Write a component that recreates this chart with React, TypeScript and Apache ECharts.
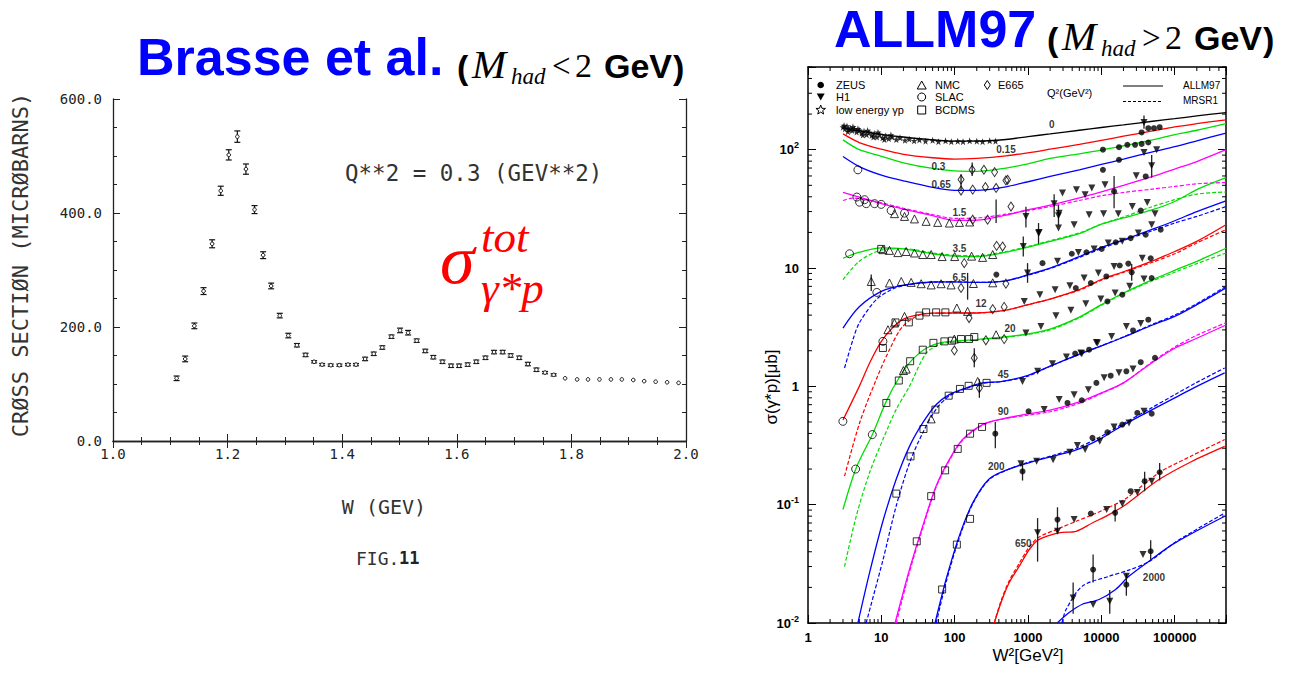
import React, { useEffect, useRef } from "react";
import * as echarts from "echarts";

// ---------------- Left panel: Brasse et al. ----------------
const brasseW = [1.111, 1.126, 1.142, 1.158, 1.173, 1.188, 1.202, 1.217, 1.232, 1.247, 1.262, 1.276, 1.291, 1.306, 1.321, 1.336, 1.351, 1.365, 1.38, 1.395, 1.41, 1.424, 1.44, 1.455, 1.47, 1.486, 1.501, 1.515, 1.53, 1.545, 1.559, 1.575, 1.59, 1.604, 1.619, 1.634, 1.65, 1.665, 1.68, 1.694, 1.709, 1.724, 1.739, 1.754, 1.769, 1.789, 1.81, 1.829, 1.849, 1.869, 1.888, 1.908, 1.927, 1.947, 1.967, 1.987];
const brasseSigma = [110, 144, 202, 263, 346, 439, 502, 534, 477, 406, 326, 272, 220, 185, 168, 151, 139, 134, 133, 133, 134, 134, 144, 153, 164, 183, 194, 190, 176, 158, 147, 139, 132, 132, 134, 139, 146, 156, 156, 150, 146, 135, 125, 120, 116, 110, 108, 108, 108, 108, 108, 107, 105, 104, 103, 102];
const brasseErr = [4, 5, 5, 6, 7, 8, 9, 10, 9, 7, 6, 5, 4, 4, 3, 3, 2, 2, 2, 2, 2, 2, 3, 3, 3, 3, 4, 4, 3, 3, 3, 3, 3, 3, 3, 3, 3, 3, 3, 3, 3, 3, 3, 2, 2, 0, 0, 0, 0, 0, 0, 0, 0, 0, 0, 0];
const leftXTickLabels = ["1.0", "1.2", "1.4", "1.6", "1.8", "2.0"];
const leftYTickLabels = ["0.0", "200.0", "400.0", "600.0"];

// ---------------- Right panel: ALLM97 curves (W^2 [GeV^2], sigma [mub]) ----------------
const allmQ0 = [[3, 153], [5, 144], [10, 135], [20, 128], [50, 121], [100, 118], [200, 118], [500, 122], [1000, 129], [2000, 136], [5000, 146], [10000, 154], [20000, 162], [50000, 174], [100000, 183], [200000, 193], [500000, 206]];
const allmQ015 = [[3, 136], [5, 115], [10, 101], [20, 91.4], [50, 85.5], [100, 83.3], [200, 84.6], [500, 88.8], [1000, 94.2], [2000, 101], [5000, 111], [10000, 120], [20000, 130], [50000, 144], [100000, 156], [200000, 166], [500000, 179]];
const allmQ03 = [[3, 121], [5, 100], [10, 88], [20, 77.5], [50, 69.4], [100, 66.3], [200, 65.7], [500, 70], [1000, 76], [2000, 84.3], [5000, 92.3], [10000, 99.3], [20000, 108], [50000, 121], [100000, 134], [200000, 146], [500000, 166]];
const allmQ065 = [[3, 87.6], [5, 72], [10, 61], [20, 54.6], [50, 48.1], [100, 45.4], [200, 45.4], [500, 48.6], [1000, 53.6], [2000, 59.4], [5000, 67.6], [10000, 75], [20000, 83.3], [50000, 96], [100000, 106], [200000, 119], [500000, 138]];
const allmQ15 = [[3, 43.5], [5, 39.8], [10, 35], [20, 31.5], [50, 27.7], [100, 25.3], [200, 25.4], [500, 28], [1000, 31.1], [2000, 34], [5000, 39.2], [10000, 44.1], [20000, 49.9], [50000, 59.4], [100000, 68.6], [200000, 79.4], [500000, 100]];
const mrsQ15 = [[3, 37.2], [4, 39], [5, 38.5], [10, 35.5], [20, 32], [50, 28.3], [100, 26.3], [200, 26.5], [500, 28.5], [1000, 30.6], [2000, 33.1], [5000, 37.2], [10000, 40.8], [20000, 43.5], [50000, 46.5], [100000, 48.9], [200000, 51.5], [500000, 52.9]];
const allmQ35 = [[3, 12.1], [5, 13.6], [10, 14.8], [20, 14.5], [50, 13.2], [100, 12.6], [200, 12.5], [500, 13.6], [1000, 15], [2000, 16.8], [5000, 19.5], [10000, 23.5], [20000, 26.5], [50000, 31.1], [100000, 36.5], [200000, 46], [500000, 58]];
const mrsQ35 = [[3, 7.97], [5, 11.4], [10, 14.2], [20, 14.6], [50, 13.4], [100, 12.8], [200, 12.7], [500, 13.8], [1000, 15.2], [2000, 17], [5000, 19.8], [10000, 23.5], [20000, 27], [50000, 33.1], [100000, 37.8], [200000, 42.2], [500000, 43.9]];
const allmQ65 = [[3, 3.11], [5, 4.7], [10, 6.35], [20, 7.18], [50, 7.62], [100, 7.65], [200, 7.56], [500, 7.8], [1000, 8.78], [2000, 10], [5000, 12.5], [10000, 14.9], [20000, 17.3], [50000, 21.3], [100000, 25.1], [200000, 30], [500000, 37]];
const mrsQ65 = [[3.15, 1.43], [4.1, 2.48], [5, 3.43], [8.5, 5.4], [14.3, 6.65], [20, 7.1], [50, 7.6], [100, 7.65], [200, 7.56], [500, 7.8], [1000, 8.7], [2000, 9.9], [5000, 12.3], [10000, 14.6], [20000, 17.1], [50000, 20.7], [100000, 24], [200000, 27.3], [500000, 33.1]];
const allmQ12 = [[3, 0.52], [5, 1.0], [7, 1.6], [10, 2.4], [14, 3.1], [20, 3.7], [30, 4.0], [50, 4.15], [100, 4.17], [200, 4.17], [500, 4.4], [1000, 4.9], [2000, 5.47], [5000, 6.56], [10000, 8.0], [20000, 9.3], [50000, 11.5], [100000, 13.8], [200000, 16.8], [500000, 23.2]];
const mrsQ12 = [[3.15, 0.174], [5.05, 0.49], [8.5, 1.14], [12.9, 2.04], [19.6, 3.21], [36.6, 4.1], [50, 4.15], [100, 4.17], [200, 4.17], [500, 4.4], [1000, 4.9], [2000, 5.47], [5000, 6.5], [10000, 7.9], [20000, 9.2], [50000, 11.2], [100000, 13.2], [200000, 16.3], [500000, 21.1]];
const allmQ20 = [[3, 0.091], [4.55, 0.205], [7.67, 0.4], [11.7, 0.75], [17.7, 1.2], [26.8, 1.7], [40.8, 2.1], [68, 2.35], [195, 2.48], [550, 2.64], [1000, 2.77], [2000, 3.05], [5000, 3.85], [10000, 4.9], [20000, 6.15], [50000, 7.97], [100000, 9.55], [200000, 11.4], [500000, 14.7]];
const mrsQ20 = [[3.15, 0.03], [4.55, 0.08], [6.9, 0.186], [10.5, 0.355], [15.9, 0.636], [24.2, 1.0], [40.8, 1.9], [68, 2.3], [195, 2.46], [550, 2.62], [1000, 2.75], [2000, 3.0], [5000, 3.8], [10000, 4.85], [20000, 6.1], [50000, 7.8], [100000, 9.2], [200000, 10.9], [500000, 13.4]];
const allmQ45 = [[4.79, 0.01], [6.9, 0.0265], [10.5, 0.0724], [15.9, 0.163], [24.2, 0.311], [36.6, 0.491], [55.7, 0.7], [84.4, 0.851], [143, 0.968], [240, 1.07], [450, 1.1], [1000, 1.24], [2000, 1.48], [5000, 1.87], [10000, 2.2], [20000, 2.6], [50000, 3.3], [100000, 3.9], [200000, 4.9], [500000, 6.8]];
const mrsQ45 = [[6.2, 0.01], [10.5, 0.034], [15.9, 0.097], [24.2, 0.225], [36.6, 0.404], [55.7, 0.64], [84.4, 0.83], [143, 0.96], [240, 1.06], [450, 1.1], [1000, 1.22], [2000, 1.48], [5000, 1.86], [10000, 2.2], [20000, 2.62], [50000, 3.35], [100000, 4.0], [200000, 5.0], [500000, 7.0]];
const allmQ90 = [[15.4, 0.01], [24.2, 0.0283], [36.6, 0.0657], [55.7, 0.143], [84.4, 0.24], [128, 0.355], [240, 0.475], [450, 0.531], [1000, 0.585], [2000, 0.63], [5000, 0.74], [10000, 0.88], [20000, 1.07], [50000, 1.6], [100000, 2.1], [200000, 2.55], [500000, 3.3]];
const mrsQ90 = [[16, 0.01], [24.2, 0.027], [36.6, 0.063], [55.7, 0.14], [84.4, 0.236], [128, 0.35], [240, 0.47], [450, 0.53], [1000, 0.57], [2000, 0.61], [5000, 0.72], [10000, 0.87], [20000, 1.07], [50000, 1.62], [100000, 2.15], [200000, 2.7], [500000, 3.45]];
const allmQ200 = [[54, 0.01], [76.2, 0.0233], [115, 0.054], [177, 0.104], [295, 0.165], [550, 0.2], [1000, 0.225], [2150, 0.256], [4540, 0.29], [9300, 0.355], [19300, 0.466], [44600, 0.615], [100000, 0.8], [200000, 1.0], [480000, 1.3]];
const mrsQ200 = [[56, 0.01], [76.2, 0.022], [115, 0.052], [177, 0.102], [295, 0.163], [550, 0.2], [1000, 0.228], [2150, 0.26], [4540, 0.3], [9300, 0.37], [19300, 0.48], [44600, 0.64], [100000, 0.85], [200000, 1.08], [480000, 1.43]];
const allmQ650 = [[346, 0.01], [430, 0.015], [550, 0.0218], [760, 0.0302], [1040, 0.0418], [1400, 0.0507], [2650, 0.0578], [4540, 0.0596], [7500, 0.07], [12700, 0.0825], [21400, 0.1], [61000, 0.163], [173000, 0.233], [480000, 0.311]];
const mrsQ650 = [[346, 0.01], [430, 0.0155], [550, 0.0225], [760, 0.032], [1040, 0.044], [1400, 0.053], [2650, 0.063], [4540, 0.0724], [7500, 0.082], [12700, 0.095], [21400, 0.112], [61000, 0.186], [173000, 0.26], [480000, 0.355]];
const allmQ2000 = [[2500, 0.01], [3600, 0.0122], [5500, 0.0144], [9300, 0.0158], [15600, 0.0192], [23700, 0.0248], [44600, 0.0333], [101000, 0.0475], [480000, 0.0798]];
const mrsQ2000 = [[2900, 0.01], [3300, 0.013], [5500, 0.0205], [12700, 0.0248], [23700, 0.028], [44600, 0.033], [101000, 0.048], [480000, 0.085]];

// Q^2 labels on curves: [label, W2, sigma]
const q2Labels: [string, number, number][] = [["0", 2115, 162], ["0.15", 500, 99.8], ["0.3", 60, 71.7], ["0.65", 65.3, 50.6], ["1.5", 116, 29.5], ["3.5", 116, 14.5], ["6.5", 116, 8.24], ["12", 229, 5.06], ["20", 567, 3.11], ["45", 460, 1.26], ["90", 460, 0.611], ["200", 369, 0.21], ["650", 860, 0.0469], ["2000", 52100, 0.0241]];

// Data sets
const zeus = [[35400, 140], [43600, 152], [52100, 152], [62300, 155], [10500, 100], [17400, 105], [22600, 110], [28800, 110], [35400, 112], [43600, 115], [17400, 82.2], [10500, 67.6], [40200, 59.4], [14900, 44.4], [34400, 30.6], [64300, 21.1], [40200, 19.1], [3950, 13.2], [6250, 13.6], [10100, 14.5], [15700, 16.5], [25100, 17.9], [1575, 11.0], [370, 8.8], [11700, 8.49], [17800, 10.5], [23300, 10.9], [25900, 9.19], [47000, 12.1], [4480, 6.78], [7170, 7.47], [12100, 5.22], [19300, 5.95], [48500, 8.24], [4390, 1.89], [6800, 2.04], [43600, 3.66], [27000, 2.97], [841, 0.191], [2520, 0.0748], [7170, 0.0841], [15400, 0.0853], [25100, 0.13], [38900, 0.158], [62300, 0.188], [7710, 0.0283], [21900, 0.0211], [47000, 0.0404], [1016, 0.615], [3450, 0.724], [5410, 0.762], [8550, 1.07], [13400, 1.23], [21900, 1.34], [34400, 1.6], [53800, 1.74], [7550, 0.367], [12100, 0.409], [19300, 0.475], [30900, 0.596], [48500, 0.588], [358, 0.398]];
const h1 = [[38100, 170], [38100, 94.7], [56700, 100], [11200, 50.5], [29900, 60.2], [48500, 73.1], [2270, 34.9], [2950, 43.0], [4570, 45.8], [6000, 41.6], [7400, 47.4], [936, 27.3], [1390, 19.8], [2600, 27.7], [2600, 21.8], [4250, 23.2], [6800, 28.2], [10700, 28.8], [17000, 28.8], [26400, 33.1], [42200, 35.8], [53800, 28.8], [861, 15.2], [985, 9.07], [2520, 11.4], [4860, 13.5], [7960, 14.5], [12400, 16.3], [19300, 16.8], [31900, 19.8], [48500, 23.2], [888, 5.22], [1450, 5.95], [2340, 6.56], [3720, 7.1], [5820, 8.24], [9100, 9.07], [14900, 10.3], [36100, 12.1], [936, 2.83], [1500, 3.21], [2400, 3.96], [3840, 4.39], [6130, 4.99], [9820, 5.47], [15400, 6.15], [24300, 7.0], [38100, 8.07], [3340, 1.77], [5250, 1.91], [8550, 2.35], [13800, 2.64], [21900, 3.21], [34400, 3.39], [1350, 0.0578], [2520, 0.0596], [4250, 0.0748], [11800, 0.0909], [19300, 0.102], [30900, 0.127], [48500, 0.158], [4120, 0.0163], [7710, 0.0143], [13000, 0.0153], [21900, 0.0248], [36900, 0.0379], [800, 0.222], [1310, 0.233], [2200, 0.24], [3720, 0.277], [4710, 0.316], [6000, 0.292], [9500, 0.343], [14900, 0.454], [23800, 0.491], [38100, 0.615], [841, 1.1], [1660, 0.636], [2660, 0.773], [4250, 0.851], [6650, 0.938], [10900, 1.18], [17400, 1.3], [27000, 1.4], [1350, 1.34], [2150, 1.55], [5410, 1.89], [8830, 2.33], [1420, 20], [2660, 29.1]];
const lowEnergyGp = [[3.0, 155], [3.1, 160], [3.2, 150], [3.4, 158], [3.5, 142], [3.6, 148], [3.8, 152], [4.0, 145], [4.1, 156], [4.3, 150], [4.6, 141], [4.8, 150], [5.0, 146], [5.4, 138], [5.6, 133], [5.8, 143], [6.3, 134], [6.5, 145], [6.8, 140], [7.4, 132], [7.8, 128], [8.0, 137], [8.7, 128], [9.0, 140], [9.5, 134], [10.4, 126], [11, 122], [11.5, 131], [12.6, 124], [13.5, 133], [14, 128], [16, 122], [18, 126], [21, 120], [24, 123], [28, 119], [33, 121], [40, 118], [50, 120], [60, 117], [75, 119], [90, 117], [110, 118], [130, 117], [160, 119], [200, 118], [240, 117], [300, 119], [360, 118]];
const nmc = [[15.1, 28.8], [20.7, 27.3], [28.3, 26.0], [40.8, 24.8], [58.7, 24.3], [84.7, 24.0], [116, 24.3], [160, 24.5], [10.5, 14.3], [12.9, 14.1], [16.8, 13.5], [21.8, 13.8], [28.3, 13.4], [36.7, 13.0], [47.8, 13.0], [67.4, 12.5], [100, 12.5], [170, 12.6], [240, 12.3], [330, 13.0], [7.28, 7.7], [12.9, 7.47], [18.7, 7.7], [25.5, 7.56], [34.9, 7.37], [47.8, 7.2], [65.3, 7.37], [89.3, 7.2], [180, 7.4], [330, 7.5], [12.3, 3.01], [15.1, 3.43], [20.7, 3.9], [107, 4.59], [150, 4.3], [20, 1.36], [21.8, 1.4], [47.8, 0.531], [206, 1.1], [99, 2.51], [367, 2.73]];
const slac = [[4.79, 67.6], [4.64, 39.8], [5.91, 37.8], [5.05, 36.0], [6.23, 35.0], [8.08, 35.0], [9.96, 34.5], [13.6, 30.6], [20.7, 29.1], [3.69, 13.2], [8.68, 6.22], [10.5, 2.4], [2.99, 0.506], [4.46, 0.2], [7.52, 0.391]];
const bcdms = [[9.96, 14.5], [10.5, 2.11], [15.6, 3.47], [23.7, 3.47], [33.1, 3.96], [40.8, 4.22], [55.9, 4.22], [74.7, 4.22], [11.7, 0.724], [17.3, 1.12], [24.7, 1.63], [36.7, 2.04], [51.3, 2.33], [72.4, 2.4], [92, 2.43], [122, 2.51], [157, 2.51], [185, 2.61], [16.0, 0.124], [25, 0.256], [37.5, 0.436], [54.6, 0.636], [82.8, 0.834], [118, 0.951], [155, 1.01], [272, 1.07], [30.4, 0.049], [47.8, 0.118], [74, 0.195], [110, 0.296], [162, 0.398], [236, 0.454], [67.4, 0.0192], [107, 0.046], [162, 0.0759]];
const e665 = [[173, 67.7], [250, 67.7], [350, 64.7], [122, 45.2], [176, 46], [262, 48.4], [367, 47.5], [499, 55], [122, 56], [526, 55.7], [176, 25.6], [281, 25.6], [585, 33.1], [135, 11.0], [373, 15.4], [450, 15.2], [122, 6.78], [499, 7.37], [157, 3.78], [330, 4.5], [473, 4.69], [99, 2.01], [185, 1.74], [266, 2.45], [473, 2.51], [217, 0.968]];
// vertical error bars: [W2, low, high]
const rightErrBars = [[14900, 32, 60], [48500, 58, 90], [2270, 27, 42], [936, 22, 33], [1390, 16, 24], [2600, 23, 34], [25900, 7.8, 10.8], [122, 45, 62], [173, 60, 78], [861, 12.5, 18.5], [985, 7.5, 11], [150, 5.4, 9.1], [367, 24, 38], [1350, 0.033, 0.077], [7710, 0.022, 0.038], [2520, 0.058, 0.095], [841, 0.16, 0.23], [47000, 0.034, 0.05], [4120, 0.012, 0.022], [13000, 0.012, 0.019], [21900, 0.017, 0.026], [15400, 0.072, 0.1], [38900, 0.13, 0.19], [62300, 0.16, 0.225], [38100, 150, 195], [358, 0.3, 0.5], [217, 0.8, 1.15], [7.28, 6.4, 8.8], [185, 1.45, 2.1]];

const logMinorDigits = [2, 3, 4, 5, 6, 7, 8, 9];
const xDecades = [1, 10, 100, 1000, 10000, 100000];
const yDecades = [0.01, 0.1, 1, 10, 100];

const RED = "#ff0000";
const GREEN = "#00dd00";
const BLUE = "#0000ff";
const MAGENTA = "#ff00ff";
const BLACK = "#000000";

const STAR = "path://M0,-10 L2.35,-3.24 L9.51,-3.09 L3.8,1.24 L5.88,8.09 L0,4 L-5.88,8.09 L-3.8,1.24 L-9.51,-3.09 L-2.35,-3.24 Z";
const MONO = "DejaVu Sans Mono";
const SANS = "Liberation Sans";
const SERIF = "Liberation Serif";

function buildOption() {
  const curves = [
    { color: BLACK, solid: allmQ0, dashed: null },
    { color: RED, solid: allmQ015, dashed: null },
    { color: GREEN, solid: allmQ03, dashed: null },
    { color: BLUE, solid: allmQ065, dashed: null },
    { color: MAGENTA, solid: allmQ15, dashed: mrsQ15 },
    { color: GREEN, solid: allmQ35, dashed: mrsQ35 },
    { color: BLUE, solid: allmQ65, dashed: mrsQ65 },
    { color: RED, solid: allmQ12, dashed: mrsQ12 },
    { color: GREEN, solid: allmQ20, dashed: mrsQ20 },
    { color: BLUE, solid: allmQ45, dashed: mrsQ45 },
    { color: MAGENTA, solid: allmQ90, dashed: mrsQ90 },
    { color: BLUE, solid: allmQ200, dashed: mrsQ200 },
    { color: RED, solid: allmQ650, dashed: mrsQ650 },
    { color: BLUE, solid: allmQ2000, dashed: mrsQ2000 },
  ];

  const xMinor: number[][] = [];
  xDecades.forEach((d) => logMinorDigits.forEach((k) => { if (k * d <= 500000) xMinor.push([k * d, 1]); }));
  const yMinor: number[][] = [];
  yDecades.forEach((d) => logMinorDigits.forEach((k) => { if (k * d <= 500) yMinor.push([1, k * d]); }));

  const series: any[] = [];

  // Left error-bar points
  series.push({
    type: "custom",
    xAxisIndex: 0,
    yAxisIndex: 0,
    silent: true,
    data: brasseW.map((w, i) => [w, brasseSigma[i], brasseErr[i]]),
    renderItem: (params: any, api: any) => {
      const x = api.value(0), y = api.value(1), e = api.value(2);
      const c = api.coord([x, y]);
      const ch: any[] = [];
      const st = { stroke: "#111", lineWidth: 1.2 };
      if (e > 0) {
        const t = api.coord([x, y + e]);
        const b = api.coord([x, y - e]);
        ch.push({ type: "line", shape: { x1: c[0], y1: t[1], x2: c[0], y2: b[1] }, style: st });
        ch.push({ type: "line", shape: { x1: c[0] - 3, y1: t[1], x2: c[0] + 3, y2: t[1] }, style: st });
        ch.push({ type: "line", shape: { x1: c[0] - 3, y1: b[1], x2: c[0] + 3, y2: b[1] }, style: st });
      }
      ch.push({ type: "circle", shape: { cx: c[0], cy: c[1], r: 1.8 }, style: { fill: "#fff", stroke: "#111", lineWidth: 1 } });
      return { type: "group", children: ch };
    },
  });

  // Log minor ticks (right panel)
  series.push({
    type: "custom", xAxisIndex: 2, yAxisIndex: 2, silent: true, clip: false, data: xMinor,
    renderItem: (params: any, api: any) => {
      const cs = params.coordSys;
      const p = api.coord([api.value(0), api.value(1)]);
      const st = { stroke: "#000", lineWidth: 1 };
      return { type: "group", children: [
        { type: "line", shape: { x1: p[0], y1: cs.y + cs.height, x2: p[0], y2: cs.y + cs.height - 4 }, style: st },
        { type: "line", shape: { x1: p[0], y1: cs.y, x2: p[0], y2: cs.y + 4 }, style: st },
      ] };
    },
  });
  series.push({
    type: "custom", xAxisIndex: 2, yAxisIndex: 2, silent: true, clip: false, data: yMinor,
    renderItem: (params: any, api: any) => {
      const cs = params.coordSys;
      const p = api.coord([api.value(0), api.value(1)]);
      const st = { stroke: "#000", lineWidth: 1 };
      return { type: "group", children: [
        { type: "line", shape: { x1: cs.x, y1: p[1], x2: cs.x + 4, y2: p[1] }, style: st },
        { type: "line", shape: { x1: cs.x + cs.width, y1: p[1], x2: cs.x + cs.width - 4, y2: p[1] }, style: st },
      ] };
    },
  });

  // Curves
  curves.forEach((c) => {
    series.push({
      type: "line", xAxisIndex: 2, yAxisIndex: 2, data: c.solid, showSymbol: false, symbol: "none",
      smooth: 0.3, silent: true, z: 3, lineStyle: { color: c.color, width: 1.3 },
    });
    if (c.dashed) {
      series.push({
        type: "line", xAxisIndex: 2, yAxisIndex: 2, data: c.dashed, showSymbol: false, symbol: "none",
        smooth: 0.3, silent: true, z: 3, lineStyle: { color: c.color, width: 1.2, type: [4, 2] },
      });
    }
  });

  // Error bars (right)
  series.push({
    type: "custom", xAxisIndex: 2, yAxisIndex: 2, silent: true, z: 4, data: rightErrBars,
    renderItem: (params: any, api: any) => {
      const a = api.coord([api.value(0), api.value(1)]);
      const b = api.coord([api.value(0), api.value(2)]);
      return { type: "line", shape: { x1: a[0], y1: a[1], x2: b[0], y2: b[1] }, style: { stroke: "#222", lineWidth: 1.3 } };
    },
  });

  const open = { color: "rgba(0,0,0,0)", borderColor: "#000", borderWidth: 1 };
  const scat = (name: string, data: number[][], symbol: string, size: any, style: any, rotate = 0) => ({
    type: "scatter", name, xAxisIndex: 2, yAxisIndex: 2, data, symbol, symbolSize: size, symbolRotate: rotate,
    itemStyle: style, z: 5, silent: true,
  });
  series.push(scat("low energy γp", lowEnergyGp, STAR, 7, { color: "#000" }));
  series.push(scat("NMC", nmc, "triangle", 8, open));
  series.push(scat("SLAC", slac, "circle", 8, open));
  series.push(scat("BCDMS", bcdms, "rect", 7, open));
  series.push(scat("E665", e665, "diamond", [6, 9], open));
  series.push(scat("ZEUS", zeus, "circle", 6, { color: "#000" }));
  series.push(scat("H1", h1, "triangle", 7, { color: "#000" }, 180));

  // Q^2 labels
  series.push({
    type: "scatter", xAxisIndex: 2, yAxisIndex: 2, symbolSize: 1, silent: true, z: 6,
    itemStyle: { color: "rgba(0,0,0,0)" },
    data: q2Labels.map((q) => ({ name: q[0], value: [q[1], q[2]] })),
    label: { show: true, position: "inside", formatter: (p: any) => p.name, fontFamily: SANS, fontWeight: "bold", fontSize: 10, color: "#000" },
  });

  const leftAxisCommon = {
    axisLine: { lineStyle: { color: "#222", width: 1.3 } },
    axisTick: { inside: true, length: 7, lineStyle: { color: "#222", width: 1 } },
    minorTick: { show: true, splitNumber: 4, length: 4, lineStyle: { color: "#222", width: 1 } },
    splitLine: { show: false },
    minorSplitLine: { show: false },
  };
  const logLabel = (v: number) => {
    const e = Math.log10(v);
    const r = Math.round(e);
    if (Math.abs(e - r) > 1e-6) return "";
    return String(Math.round(Math.pow(10, r)));
  };
  const yLogLabel = (v: number) => {
    const e = Math.log10(v);
    const r = Math.round(e);
    if (Math.abs(e - r) > 1e-6) return "";
    if (r === 0) return "{b|1}";
    if (r === 1) return "{b|10}";
    return "{b|10}{s|" + r + "}";
  };
  const rightAxisCommon = {
    type: "log", logBase: 10,
    axisLine: { lineStyle: { color: "#000", width: 1.5 } },
    axisTick: { inside: true, length: 8, lineStyle: { color: "#000", width: 1 } },
    splitLine: { show: false },
  };

  const t = (x: number, y: number, text: string, opts: any = {}) => ({
    type: "text", x, y, rotation: opts.rotation || 0, silent: true,
    style: {
      text, fill: opts.fill || "#000", fontSize: opts.fontSize || 12, fontFamily: opts.fontFamily || SANS,
      fontWeight: opts.fontWeight || "normal", fontStyle: opts.fontStyle || "normal",
      lineHeight: opts.lineHeight,
      align: opts.align || "left", textAlign: opts.align || "left", verticalAlign: "middle", textVerticalAlign: "middle",
    },
  });

  const subtitle = (x0: number, base: number, sym: string) => [
    t(x0, base - 10, "(", { fontSize: 34, fontWeight: "bold" }),
    t(x0 + 15, base - 13, "M", { fontSize: 41, fontFamily: SERIF, fontStyle: "italic" }),
    t(x0 + 54, base - 1, "had", { fontSize: 23, fontFamily: SERIF, fontStyle: "italic" }),
    t(x0 + 95, base - 11, sym, { fontSize: 33, fontFamily: SERIF }),
    t(x0 + 118, base - 12, "2", { fontSize: 34, fontFamily: SERIF }),
    t(x0 + 147, base - 11, "GeV", { fontSize: 34, fontWeight: "bold" }),
    t(x0 + 216, base - 10, ")", { fontSize: 34, fontWeight: "bold" }),
  ];

  const lg = 11;
  const starPts: number[][] = [];
  for (let i = 0; i < 10; i++) {
    const r = i % 2 === 0 ? 5 : 2.1;
    const a = -Math.PI / 2 + (i * Math.PI) / 5;
    starPts.push([820.7 + r * Math.cos(a), 110 + r * Math.sin(a)]);
  }
  const openStroke = { fill: "none", stroke: "#000", lineWidth: 1 };

  const graphic: any[] = [
    // Titles
    t(137, 57, "Brasse et al.", { fontSize: 52, fontWeight: "bold", fill: "#0000ff" }),
    ...subtitle(457, 77, "<"),
    t(834, 29, "ALLM97", { fontSize: 52, fontWeight: "bold", fill: "#0000ff" }),
    ...subtitle(1047, 49, ">"),
    // Left panel annotations
    t(20, 265, "CRØSS SECTIØN (MICRØBARNS)", { fontSize: 22, fontFamily: MONO, fill: "#333", rotation: Math.PI / 2, align: "center" }),
    t(345, 173, "Q**2 = 0.3 (GEV**2)", { fontSize: 22.5, fontFamily: MONO, fill: "#333" }),
    t(384, 507, "W (GEV)", { fontSize: 20, fontFamily: MONO, fill: "#333", align: "center" }),
    t(356, 558, "FIG.", { fontSize: 18, fontFamily: MONO, fill: "#333" }),
    t(399, 558, "11", { fontSize: 17, fontFamily: MONO, fontWeight: "bold", fill: "#222" }),
    t(440, 259, "σ", { fontSize: 70, fontFamily: SERIF, fontStyle: "italic", fill: RED }),
    t(481, 262, "tot\nγ*p", { fontSize: 45, lineHeight: 51, fontFamily: SERIF, fontStyle: "italic", fill: RED }),
    // Right panel axis titles
    t(1028, 655, "W²[GeV²]", { fontSize: 17, align: "center" }),
    t(771, 387, "σ(γ*p)[μb]", { fontSize: 17, align: "center", rotation: Math.PI / 2 }),
    // Legend
    { type: "circle", silent: true, shape: { cx: 820.7, cy: 85, r: 3.3 }, style: { fill: "#000" } },
    t(836, 85, "ZEUS", { fontSize: lg }),
    { type: "polygon", silent: true, shape: { points: [[816.7, 93.5], [824.7, 93.5], [820.7, 100.5]] }, style: { fill: "#000" } },
    t(836, 97, "H1", { fontSize: lg }),
    { type: "polygon", silent: true, shape: { points: starPts }, style: openStroke },
    t(836, 110, "low energy γp", { fontSize: lg }),
    { type: "polygon", silent: true, shape: { points: [[917.2, 89], [926.2, 89], [921.7, 81]] }, style: openStroke },
    t(935, 85, "NMC", { fontSize: lg }),
    { type: "circle", silent: true, shape: { cx: 921.7, cy: 97, r: 4 }, style: openStroke },
    t(935, 97, "SLAC", { fontSize: lg }),
    { type: "rect", silent: true, shape: { x: 917.7, y: 106, width: 8, height: 8 }, style: openStroke },
    t(935, 110, "BCDMS", { fontSize: lg }),
    { type: "polygon", silent: true, shape: { points: [[987.3, 80.5], [990.3, 85], [987.3, 89.5], [984.3, 85]] }, style: openStroke },
    t(998, 85, "E665", { fontSize: lg }),
    t(1047, 93, "Q²(GeV²)", { fontSize: lg }),
    { type: "line", silent: true, shape: { x1: 1123, y1: 86, x2: 1163, y2: 86 }, style: { stroke: "#000", lineWidth: 1 } },
    t(1183, 85, "ALLM97", { fontSize: 10 }),
    { type: "line", silent: true, shape: { x1: 1123, y1: 101.5, x2: 1163, y2: 101.5 }, style: { stroke: "#000", lineWidth: 1, lineDash: [3, 2] } },
    t(1183, 100, "MRSR1", { fontSize: 10 }),
  ];

  return {
    animation: false,
    backgroundColor: "#ffffff",
    grid: [
      { left: 113, top: 99, width: 573, height: 342, containLabel: false },
      { left: 808, top: 67, width: 418, height: 556, containLabel: false },
    ],
    xAxis: [
      {
        ...leftAxisCommon, type: "value", gridIndex: 0, min: 1, max: 2, interval: 0.2, position: "bottom",
        axisLabel: { formatter: (v: number) => leftXTickLabels[Math.round((v - 1) / 0.2)] ?? "", fontFamily: MONO, fontSize: 14, color: "#222", margin: 6 },
      },
      { ...leftAxisCommon, type: "value", gridIndex: 0, min: 1, max: 2, interval: 0.2, position: "top", axisLabel: { show: false } },
      {
        ...rightAxisCommon, gridIndex: 1, min: 1, max: 500000, position: "bottom",
        axisLabel: { formatter: logLabel, fontFamily: SANS, fontWeight: "bold", fontSize: 13, color: "#000", margin: 8 },
      },
      { ...rightAxisCommon, gridIndex: 1, min: 1, max: 500000, position: "top", axisLabel: { show: false } },
    ],
    yAxis: [
      {
        ...leftAxisCommon, type: "value", gridIndex: 0, min: 0, max: 600, interval: 200, position: "left",
        axisLabel: { formatter: (v: number) => leftYTickLabels[Math.round(v / 200)] ?? "", fontFamily: MONO, fontSize: 14, color: "#222", margin: 11 },
      },
      { ...leftAxisCommon, type: "value", gridIndex: 0, min: 0, max: 600, interval: 200, position: "right", axisLabel: { show: false } },
      {
        ...rightAxisCommon, gridIndex: 1, min: 0.01, max: 500, position: "left",
        axisLabel: {
          formatter: yLogLabel, margin: 9,
          rich: {
            b: { fontFamily: SANS, fontWeight: "bold", fontSize: 13, color: "#000", lineHeight: 18 },
            s: { fontFamily: SANS, fontWeight: "bold", fontSize: 9, color: "#000", verticalAlign: "top", lineHeight: 18 },
          },
        },
      },
      { ...rightAxisCommon, gridIndex: 1, min: 0.01, max: 500, position: "right", axisLabel: { show: false } },
    ],
    series,
    graphic,
  };
}

export default function App() {
  const ref = useRef<HTMLDivElement>(null);
  useEffect(() => {
    if (!ref.current) return;
    const chart = echarts.init(ref.current, null, { renderer: "svg" });
    chart.setOption(buildOption() as any);
    return () => chart.dispose();
  }, []);
  return (
    <div
      ref={ref}
      style={{ position: "fixed", left: 0, top: 0, width: 1301, height: 674, background: "#fff" }}
    />
  );
}
